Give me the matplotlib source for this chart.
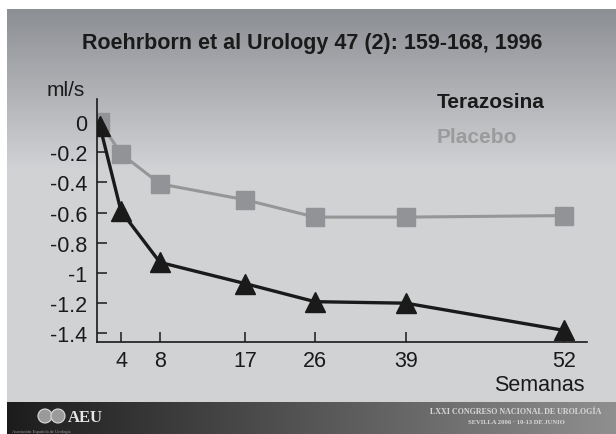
#!/usr/bin/env python3
"""Flujo urinario: Terazosina vs Placebo (Roehrborn 1996)"""

import numpy as np
import matplotlib
matplotlib.use('Agg')
import matplotlib.pyplot as plt
from matplotlib.patches import Circle

plt.rcParams['font.family'] = ['Liberation Sans', 'DejaVu Sans']
plt.rcParams['axes.unicode_minus'] = False

# datos
semanas = [0, 4, 8, 17, 26, 39, 52]
terazosina = [-0.03, -0.59, -0.93, -1.07, -1.19, -1.20, -1.38]
placebo = [0.0, -0.21, -0.41, -0.515, -0.63, -0.63, -0.62]
x_ticks = [4, 8, 17, 26, 39, 52]
y_ticks = [0, -0.2, -0.4, -0.6, -0.8, -1.0, -1.2, -1.4]
y_tick_labels = ['0', '-0.2', '-0.4', '-0.6', '-0.8', '-1', '-1.2', '-1.4']

W, H = 616, 435

# el eje x de la diapositiva no es lineal: escala por tramos (semana -> pixel)
knot_weeks = np.array([-10, 0, 4, 8, 17, 26, 39, 52, 70], dtype=float)
knot_px = np.array([55, 100, 121, 160, 245, 315, 406, 564, 784], dtype=float)


def fwd(w):
    return np.interp(w, knot_weeks, knot_px)


def inv(p):
    return np.interp(p, knot_px, knot_weeks)


def px(x, y):
    return x / W, 1 - y / H


fig = plt.figure(figsize=(W / 100, H / 100), dpi=100)
fig.patch.set_facecolor('white')

# fondo con degradado
bg = fig.add_axes([0, 0, 1, 1], zorder=0)
bg.axis('off')

top = np.array([0.55, 0.56, 0.58])
low = np.array([0.82, 0.825, 0.835])
rows = np.arange(10, 403)
t = np.clip((rows - 10) / 160.0, 0, 1)[:, None]
panel = (top * (1 - t) + low * t)[:, None, :]
bg.imshow(panel, extent=[7, W, 403, 10], aspect='auto', interpolation='bilinear')

dark = np.array([0.11, 0.11, 0.11])
light = np.array([0.56, 0.56, 0.56])
s = np.linspace(0, 1, 300)[None, :, None]
band = dark * (1 - s) + light * s
bg.imshow(band, extent=[7, W, H, 403], aspect='auto', interpolation='bilinear')
bg.set_xlim(0, W)
bg.set_ylim(H, 0)

# logo AEU
bg.add_patch(Circle((45, 417), 7, facecolor='#9a9a9a', edgecolor='#dddddd', lw=0.8))
bg.add_patch(Circle((58, 417), 7, facecolor='#9a9a9a', edgecolor='#dddddd', lw=0.8))
bg.text(68, 418, 'AEU', fontsize=12, fontweight='bold', color='#e6e6e6',
        family='Liberation Serif', va='center', ha='left')
bg.text(12, 432, 'Asociación Española de Urología', fontsize=3.2, color='#9a9a9a',
        family='Liberation Serif', va='center', ha='left')
bg.text(516, 412, 'LXXI CONGRESO NACIONAL DE UROLOGÍA', fontsize=5.8, color='#d8d8d8',
        family='Liberation Serif', fontweight='bold', va='center', ha='center')
bg.text(516, 423, 'SEVILLA 2006 · 10-13 DE JUNIO', fontsize=4.8, color='#d8d8d8',
        family='Liberation Serif', fontweight='bold', va='center', ha='center')

# grafico
l, b = px(97, 343)
ax = fig.add_axes([l, b, (587 - 97) / W, (343 - 100) / H], zorder=1)
ax.patch.set_alpha(0)
ax.set_xscale('function', functions=(fwd, inv))

ax.plot(semanas, placebo, color='#969696', lw=2.2, marker='s', markersize=13.5,
        markerfacecolor='#929397', markeredgecolor='#929397', label='Placebo')
ax.plot(semanas, terazosina, color='#1a1a1a', lw=2.4, marker='^', markersize=14,
        markerfacecolor='#1a1a1a', markeredgecolor='#1a1a1a', label='Terazosina')

ax.set_xlim(inv(97), inv(587))
ax.set_ylim(-1.457, 0.152)
ax.set_xticks(x_ticks)
ax.set_xticklabels([str(v) for v in x_ticks])
ax.set_yticks(y_ticks)
ax.set_yticklabels(y_tick_labels)
ax.xaxis.set_minor_locator(matplotlib.ticker.NullLocator())

for side in ['top', 'right']:
    ax.spines[side].set_visible(False)
for side in ['left', 'bottom']:
    ax.spines[side].set_linewidth(1.2)
    ax.spines[side].set_color('#1a1a1a')

ax.tick_params(axis='both', direction='in', length=7, width=1.1, color='#1a1a1a',
               labelsize=15.5, labelcolor='#1a1a1a')
ax.tick_params(axis='y', pad=7)
ax.tick_params(axis='x', pad=6)

# textos
fig.text(*px(312, 44), 'Roehrborn et al Urology 47 (2): 159-168, 1996', fontsize=15.5,
         fontweight='bold', color='#1a1a1a', ha='center', va='center')
fig.text(*px(66, 90), 'ml/s', fontsize=15, color='#1a1a1a', ha='center', va='center')
fig.text(*px(585, 386), 'Semanas', fontsize=15.5, color='#1a1a1a', ha='right', va='center')
fig.text(*px(437, 103), 'Terazosina', fontsize=15, fontweight='bold', color='#1a1a1a',
         ha='left', va='center')
fig.text(*px(437, 138), 'Placebo', fontsize=15, fontweight='bold', color='#9b9b9b',
         ha='left', va='center')

fig.savefig('out.png', dpi=100)
plt.close(fig)
